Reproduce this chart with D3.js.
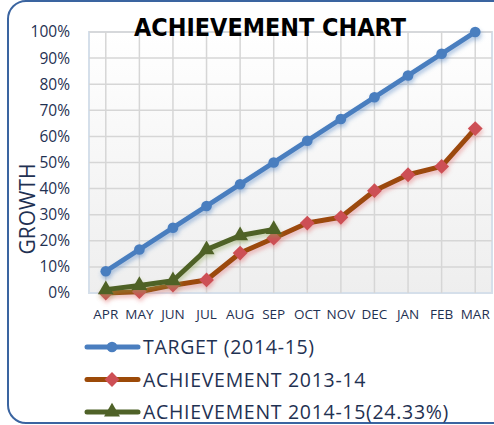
<!DOCTYPE html>
<html>
<head>
<meta charset="utf-8">
<script src="https://cdn.jsdelivr.net/npm/d3@7"></script>
<style>
  body { margin: 0; background: #fff; }
  svg { display: block; }
</style>
</head>
<body>
<script>
const width = 494
const height = 425

const months = ['APR', 'MAY', 'JUN', 'JUL', 'AUG', 'SEP', 'OCT', 'NOV', 'DEC', 'JAN', 'FEB', 'MAR']
const target = [8.33, 16.67, 25, 33.33, 41.67, 50, 58.33, 66.67, 75, 83.33, 91.67, 100]
const ach1314 = [0, 0.5, 3, 5, 15.3, 21, 26.8, 29, 39.2, 45.3, 48.5, 63]
const ach1415 = [1.3, 2.9, 4.7, 16.6, 22, 24.33]
const yTicks = [0, 10, 20, 30, 40, 50, 60, 70, 80, 90, 100]

const series = [
  { name: 'TARGET (2014-15)', values: target, line: '#4a7ebf', mark: '#4a7ebf', shape: 'circle', glow: '#4a7ebf' },
  { name: 'ACHIEVEMENT 2013-14', values: ach1314, line: '#9c4a08', mark: '#cd4f55', shape: 'diamond', glow: '#e06a70' },
  { name: 'ACHIEVEMENT 2014-15(24.33%)', values: ach1415, line: '#4f6228', mark: '#4f6228', shape: 'triangle', glow: '#8aa050' }
]

const font = '"Open Sans", sans-serif'
const textColor = '#1f3152'

let svg = d3.select('body').append('svg')
  .attr('width', width)
  .attr('height', height)

let defs = svg.append('defs')
let grad = defs.append('linearGradient')
  .attr('id', 'plotbg')
  .attr('x1', 0).attr('y1', 0).attr('x2', 0).attr('y2', 1)
grad.append('stop').attr('offset', '0%').attr('stop-color', '#ffffff')
grad.append('stop').attr('offset', '100%').attr('stop-color', '#eeeeee')

series.forEach((s, i) => {
  defs.append('filter')
    .attr('id', 'glow' + i)
    .attr('x', '-10%').attr('y', '-10%').attr('width', '120%').attr('height', '130%')
    .append('feDropShadow')
    .attr('dx', 1).attr('dy', 3)
    .attr('stdDeviation', 2)
    .attr('flood-color', s.glow)
    .attr('flood-opacity', 0.45)
})

// frame
svg.append('rect')
  .attr('x', 8).attr('y', 1)
  .attr('width', 540).attr('height', 422)
  .attr('rx', 18)
  .attr('fill', 'none')
  .attr('stroke', '#3a64a0')
  .attr('stroke-width', 2)

const x = d3.scaleBand().domain(months).range([89, 492])
const y = d3.scaleLinear().domain([0, 100]).range([293, 32])
const cx = (m) => x(m) + x.bandwidth() / 2

// plot area
svg.append('rect')
  .attr('x', 89).attr('y', 32)
  .attr('width', 403).attr('height', 261)
  .attr('fill', 'url(#plotbg)')
  .attr('stroke', '#d5dfea')
  .attr('stroke-width', 2)

svg.append('g')
  .selectAll('line')
  .data(yTicks.slice(1))
  .enter()
  .append('line')
  .attr('x1', 89).attr('x2', 492)
  .attr('y1', (d) => y(d)).attr('y2', (d) => y(d))
  .attr('stroke', '#d6d6d6')
  .attr('stroke-width', 1.5)

svg.append('g')
  .selectAll('line')
  .data(months)
  .enter()
  .append('line')
  .attr('x1', (d) => cx(d)).attr('x2', (d) => cx(d))
  .attr('y1', 32).attr('y2', 293)
  .attr('stroke', '#d6d6d6')
  .attr('stroke-width', 1.5)

// axes
let yAxis = svg.append('g')
  .attr('transform', 'translate(89,0)')
  .call(d3.axisLeft(y).tickValues(yTicks).tickFormat((d) => d + '%').tickSize(0).tickPadding(19))
yAxis.select('.domain').remove()
yAxis.selectAll('text')
  .attr('font-family', font)
  .attr('font-size', 15.5)
  .attr('fill', textColor)

let xAxis = svg.append('g')
  .attr('transform', 'translate(0,293)')
  .call(d3.axisBottom(x).tickSize(0).tickPadding(16))
xAxis.select('.domain').remove()
xAxis.selectAll('text')
  .attr('font-family', font)
  .attr('font-size', 13.5)
  .attr('fill', textColor)

// series
const symbolFor = (shape) => {
  if (shape === 'circle') return d3.symbol().type(d3.symbolCircle).size(90)()
  if (shape === 'diamond') return d3.symbol().type(d3.symbolSquare).size(110)()
  return d3.symbol().type(d3.symbolTriangle).size(110)()
}

const line = d3.line()
  .x((d, i) => cx(months[i]))
  .y((d) => y(d))

series.forEach((s, i) => {
  let g = svg.append('g').attr('filter', `url(#glow${i})`)
  g.append('path')
    .datum(s.values)
    .attr('d', line)
    .attr('fill', 'none')
    .attr('stroke', s.line)
    .attr('stroke-width', 5)
    .attr('stroke-linejoin', 'round')
  g.selectAll('path.mark')
    .data(s.values)
    .enter()
    .append('path')
    .attr('class', 'mark')
    .attr('d', symbolFor(s.shape))
    .attr('transform', (d, j) => `translate(${cx(months[j])},${y(d)})` + (s.shape === 'diamond' ? ' rotate(45)' : ''))
    .attr('fill', s.mark)
})

// title
svg.append('text')
  .attr('x', 270).attr('y', 36)
  .attr('text-anchor', 'middle')
  .attr('font-family', '"DejaVu Sans", sans-serif')
  .attr('font-weight', 'bold')
  .attr('font-size', 24)
  .attr('textLength', 272)
  .attr('lengthAdjust', 'spacingAndGlyphs')
  .attr('fill', '#000')
  .text('ACHIEVEMENT CHART')

// y title
svg.append('text')
  .attr('transform', 'translate(35,209) rotate(-90)')
  .attr('text-anchor', 'middle')
  .attr('font-family', font)
  .attr('font-size', 21)
  .attr('fill', textColor)
  .text('GROWTH')

// legend
let legend = svg.append('g')
  .selectAll('g')
  .data(series)
  .enter()
  .append('g')
  .attr('transform', (d, i) => `translate(85,${347 + i * 32.5})`)

legend.append('line')
  .attr('x1', 2).attr('x2', 53)
  .attr('stroke', (d) => d.line)
  .attr('stroke-width', 5)
  .attr('stroke-linecap', 'round')

legend.append('path')
  .attr('d', (d) => symbolFor(d.shape))
  .attr('transform', (d) => 'translate(27,0)' + (d.shape === 'diamond' ? ' rotate(45)' : ''))
  .attr('fill', (d) => d.mark)

legend.append('text')
  .attr('x', 58).attr('y', 7)
  .attr('font-family', font)
  .attr('font-size', 19.5)
  .attr('letter-spacing', 0.7)
  .attr('fill', textColor)
  .text((d) => d.name)
</script>
</body>
</html>
